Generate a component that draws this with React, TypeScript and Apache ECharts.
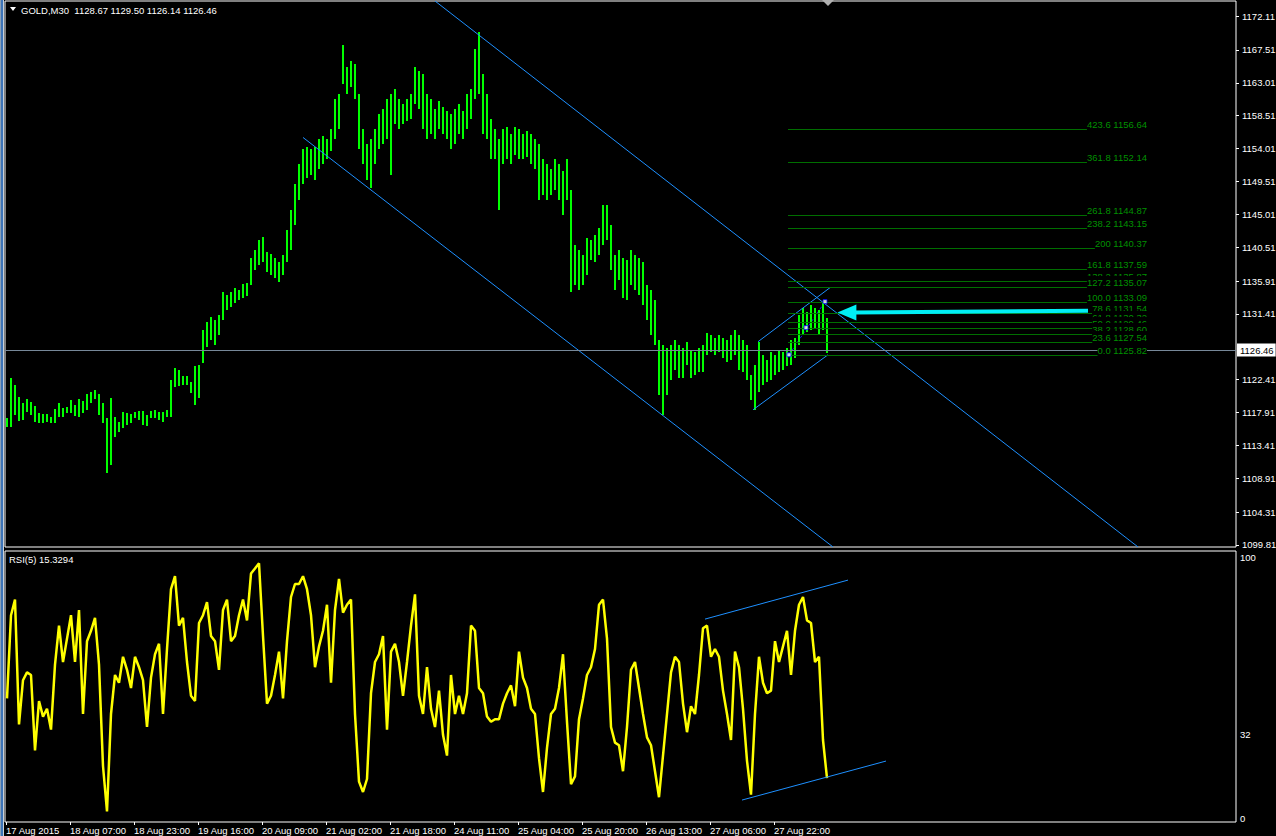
import React, { useEffect, useRef } from 'react';
import * as echarts from 'echarts';

const FONT = '"Liberation Sans", Arial, sans-serif';

// ---- header / last bar ----
const symbolName = 'GOLD,M30';
const lastOpen = 1128.67;
const lastHigh = 1129.5;
const lastLow = 1126.14;
const lastClose = 1126.46;
const rsiPeriod = 5;
const rsiLast = 15.3294;

// ---- axes ----
const timeLabels = [
  '17 Aug 2015', '18 Aug 07:00', '18 Aug 23:00', '19 Aug 16:00', '20 Aug 09:00',
  '21 Aug 02:00', '21 Aug 18:00', '24 Aug 11:00', '25 Aug 04:00', '25 Aug 20:00',
  '26 Aug 13:00', '27 Aug 06:00', '27 Aug 22:00',
];
const barsPerLabel = 16;
const priceTicks = [
  1172.11, 1167.51, 1163.01, 1158.51, 1154.01, 1149.51, 1145.01, 1140.51,
  1135.91, 1131.41, 1122.41, 1117.91, 1113.41, 1108.91, 1104.31, 1099.81,
];
const rsiTicks = [100, 32, 0];

const PRICE_MIN = 1099.536;
const PRICE_MAX = 1174.201;
const RSI_MIN = -1.538;
const RSI_MAX = 102.692;
const X_MIN = -0.5;
const X_MAX = 307.25;

// ---- price bars (M30, each entry = one pair of bars) ----
const highs = [
  1117.20, 1122.68, 1121.72, 1120.08, 1119.26, 1119.80, 1119.39, 1118.84, 1117.88, 1117.75,
  1117.75, 1117.34, 1118.43, 1119.26, 1118.57, 1118.71, 1119.67, 1118.98, 1119.80, 1119.53,
  1120.49, 1120.76, 1121.04, 1120.49, 1119.26, 1117.20, 1119.94, 1117.34, 1116.65, 1118.02,
  1117.88, 1117.75, 1118.02, 1118.16, 1118.16, 1117.61, 1118.16, 1118.30, 1118.02, 1118.02,
  1118.30, 1122.40, 1124.05, 1123.77, 1122.95, 1122.95, 1122.13, 1124.32, 1124.46, 1129.25,
  1130.35, 1131.03, 1130.62, 1131.31, 1134.45, 1134.04, 1134.45, 1135.00, 1134.73, 1135.55,
  1135.69, 1139.11, 1140.20, 1141.57, 1141.99, 1139.93, 1139.66, 1139.11, 1138.56, 1139.52,
  1142.94, 1145.68, 1149.11, 1151.85, 1153.90, 1154.17, 1153.90, 1154.17, 1155.27, 1155.68,
  1155.27, 1156.64, 1160.75, 1161.43, 1168.14, 1165.13, 1165.95, 1165.54, 1161.43, 1156.64,
  1154.58, 1155.27, 1156.64, 1158.69, 1159.38, 1160.75, 1161.43, 1162.11, 1160.75, 1160.06,
  1160.75, 1161.43, 1165.13, 1164.58, 1164.17, 1161.43, 1160.75, 1159.38, 1160.47, 1159.65,
  1159.10, 1158.69, 1159.38, 1160.06, 1159.10, 1161.43, 1162.11, 1167.59, 1169.92, 1164.17,
  1161.43, 1158.01, 1156.64, 1155.27, 1156.64, 1156.91, 1155.95, 1156.91, 1156.64, 1155.95,
  1156.36, 1155.95, 1155.27, 1154.58, 1152.53, 1151.85, 1151.16, 1152.53, 1151.85, 1150.89,
  1152.53, 1148.42, 1140.89, 1140.20, 1139.52, 1141.85, 1141.57, 1142.26, 1143.22, 1146.37,
  1146.37, 1143.63, 1139.52, 1140.20, 1139.11, 1138.84, 1140.20, 1139.52, 1139.11, 1138.56,
  1135.41, 1134.73, 1133.36, 1127.88, 1127.20, 1126.79, 1127.20, 1127.88, 1127.20, 1126.79,
  1127.61, 1126.51, 1126.24, 1126.79, 1127.20, 1128.84, 1128.57, 1128.16, 1128.57, 1128.16,
  1127.88, 1128.57, 1129.25, 1128.57, 1127.88, 1127.20, 1123.09, 1124.46, 1127.61, 1125.82,
  1125.14, 1126.24, 1125.82, 1126.51, 1126.24, 1126.79, 1127.88, 1128.16, 1131.31, 1132.26,
  1131.72, 1132.68, 1132.26, 1131.99, 1133.09, 1130.90,
];
const lows = [
  1115.97, 1115.97, 1117.61, 1116.79, 1116.93, 1118.02, 1117.61, 1116.65, 1116.52, 1116.52,
  1116.65, 1116.52, 1116.52, 1117.34, 1117.34, 1117.88, 1117.88, 1117.47, 1117.34, 1117.88,
  1118.30, 1119.26, 1119.80, 1117.61, 1116.52, 1109.67, 1110.76, 1114.60, 1115.28, 1115.83,
  1116.24, 1116.52, 1117.20, 1116.93, 1116.24, 1116.10, 1117.20, 1117.20, 1116.93, 1116.65,
  1117.34, 1117.34, 1121.45, 1121.58, 1121.72, 1121.72, 1120.62, 1118.98, 1119.94, 1124.73,
  1126.92, 1127.88, 1127.20, 1128.57, 1130.62, 1131.99, 1132.40, 1132.95, 1133.36, 1133.63,
  1133.91, 1135.41, 1137.47, 1138.15, 1138.56, 1137.19, 1136.78, 1136.37, 1135.83, 1136.78,
  1138.56, 1140.20, 1143.63, 1147.05, 1149.11, 1150.06, 1150.47, 1149.79, 1151.16, 1151.85,
  1152.53, 1153.63, 1155.27, 1156.64, 1162.80, 1161.43, 1162.39, 1160.75, 1153.90, 1151.85,
  1149.79, 1148.69, 1151.85, 1153.90, 1154.58, 1155.27, 1150.47, 1157.32, 1156.64, 1157.32,
  1157.73, 1158.01, 1160.06, 1159.38, 1156.64, 1155.27, 1155.95, 1155.27, 1156.64, 1155.95,
  1155.27, 1153.90, 1154.58, 1155.95, 1155.27, 1156.64, 1158.01, 1160.75, 1161.43, 1155.95,
  1155.27, 1152.53, 1152.53, 1145.68, 1151.85, 1152.53, 1151.85, 1153.21, 1152.53, 1152.53,
  1152.80, 1151.85, 1151.16, 1147.05, 1147.74, 1147.05, 1147.74, 1148.42, 1147.05, 1145.00,
  1147.05, 1134.45, 1135.41, 1134.73, 1135.41, 1136.78, 1138.84, 1138.56, 1139.52, 1140.89,
  1141.57, 1137.47, 1134.73, 1136.10, 1133.63, 1133.36, 1135.41, 1134.73, 1134.04, 1132.68,
  1130.62, 1128.57, 1127.20, 1120.35, 1117.61, 1120.35, 1122.40, 1123.77, 1122.68, 1122.68,
  1124.46, 1122.68, 1123.09, 1123.50, 1123.50, 1125.82, 1126.24, 1125.82, 1126.24, 1125.41,
  1124.87, 1125.14, 1125.82, 1123.77, 1123.50, 1122.40, 1119.67, 1118.30, 1120.76, 1121.72,
  1122.13, 1122.40, 1123.09, 1123.50, 1123.77, 1124.32, 1124.46, 1125.41, 1127.20, 1128.57,
  1128.98, 1129.25, 1129.53, 1128.57, 1129.25, 1126.10,
];

// ---- RSI(5) ----
const rsiValues = [
  46, 78, 84, 36, 53, 56, 55, 26, 45, 39,
  42, 34, 59, 74, 60, 69, 78, 60, 80, 40,
  68, 72, 77, 59, 20, 2.5, 40, 55, 52, 62,
  57, 50, 62, 58, 53, 35, 54, 63, 67, 40,
  65, 88, 93, 74, 77, 60, 47, 45, 75, 78,
  83, 70, 68, 57, 80, 84, 68, 70, 78, 84,
  76, 94, 96, 98, 70, 44, 47, 55, 64, 46,
  68, 85, 90, 90, 93, 88, 78, 58, 66, 72,
  82, 52, 80, 92, 79, 82, 84, 40, 14, 10,
  15, 48, 60, 63, 70, 34, 64, 67, 60, 47,
  60, 74, 86, 47, 40, 58, 42, 35, 49, 32,
  24, 55, 40, 47, 40, 48, 74, 72, 50, 48,
  39, 37, 38, 38, 44, 48, 51, 43, 64, 54,
  50, 42, 40, 23, 10, 27, 40, 42, 50, 63,
  37, 13, 16, 38, 46, 55, 58, 65, 82, 84,
  69, 35, 29, 28, 18, 35, 57, 60, 50, 40,
  31, 28, 18, 8, 24, 40, 56, 62, 60, 44,
  33, 43, 40, 55, 73, 74, 62, 65, 62, 49,
  40, 30, 64, 58, 42, 22, 9, 40, 62, 52,
  48, 49, 68, 60, 66, 72, 55, 72, 82, 85,
  76, 75, 60, 62, 30, 15.33,
];

// ---- drawing objects (bar index, value) ----
const channelUpper = [[107, 1174.2], [282.75, 1099.54]];
const channelLower = [[74, 1155.54], [206.5, 1099.54]];
const smallChannelTop = [[187.75, 1127.61], [205.75, 1135.0]];
const smallChannelBottom = [[186.5, 1118.3], [205.25, 1125.82]];
const rsiChannelTop = [[174.5, 76.5], [210.25, 91.5]];
const rsiChannelBottom = [[183.75, 6.9], [219.75, 21.9]];
const fibDiagonal = [[195.5, 1125.82], [204.5, 1133.09]];
const fibAnchors = [[195.5, 1125.82], [199.75, 1129.53], [204.5, 1133.09]];
const arrowTip = [207.6, 1131.6];
const arrowTail = [270.25, 1131.85];

const fibRatios = ['423.6', '361.8', '261.8', '238.2', '200', '161.8', '138.2', '127.2', '100.0', '78.6', '61.8', '50.0', '38.2', '23.6', '0.0'];
const fibPrices = [1156.64, 1152.14, 1144.87, 1143.15, 1140.37, 1137.59, 1135.87, 1135.07, 1133.09, 1131.54, 1130.32, 1129.46, 1128.60, 1127.54, 1125.82];
const fibStart = 195.25;
const fibEnd = 285;

export default function App() {
  const ref = useRef<HTMLDivElement>(null);

  useEffect(() => {
    if (!ref.current) return;
    const chart = echarts.init(ref.current, null, { renderer: 'svg' });
    const timeTickVals = timeLabels.map((_, k) => k * barsPerLabel - 0.25);

    const trend = (data: number[][], xi: number, yi: number, color = '#1e90ff', extra: any = {}) => ({
      type: 'line',
      xAxisIndex: xi,
      yAxisIndex: yi,
      data,
      symbol: 'none',
      silent: true,
      z: 3,
      lineStyle: { color, width: 1 },
      ...extra,
    });

    const gridBase = {
      left: 5, width: 1231, show: true, borderColor: '#fff', borderWidth: 1,
      backgroundColor: 'transparent', containLabel: false, outerBoundsMode: 'none',
    };

    const option: any = {
      animation: false,
      backgroundColor: '#000',
      textStyle: { fontFamily: FONT },
      grid: [
        { ...gridBase, top: 1, height: 546 },
        { ...gridBase, top: 551, height: 271 },
      ],
      xAxis: [
        { type: 'value', gridIndex: 0, min: X_MIN, max: X_MAX, show: false, axisLine: { onZero: false } },
        {
          type: 'value', gridIndex: 1, min: X_MIN, max: X_MAX, position: 'bottom',
          splitLine: { show: false },
          axisLine: { show: false, onZero: false },
          axisTick: { show: true, length: 3, lineStyle: { color: '#fff' }, customValues: timeTickVals },
          axisLabel: {
            customValues: timeTickVals,
            formatter: (v: number) => timeLabels[Math.round((v + 0.25) / barsPerLabel)] ?? '',
            color: '#fff', fontSize: 9.5, fontFamily: FONT, align: 'left', margin: 3,
          },
        },
      ],
      yAxis: [
        {
          type: 'value', gridIndex: 0, position: 'right', min: PRICE_MIN, max: PRICE_MAX,
          splitLine: { show: false }, axisLine: { show: false, onZero: false },
          axisTick: { show: true, length: 3, lineStyle: { color: '#fff' }, customValues: priceTicks },
          axisLabel: {
            customValues: priceTicks,
            formatter: (v: number) => v.toFixed(2),
            color: '#fff', fontSize: 9.5, fontFamily: FONT, margin: 6,
          },
        },
        {
          type: 'value', gridIndex: 0, position: 'right', min: PRICE_MIN, max: PRICE_MAX,
          splitLine: { show: false }, axisLine: { show: false, onZero: false }, axisTick: { show: false },
          axisLabel: {
            customValues: [lastClose], formatter: (v: number) => v.toFixed(2), color: '#000',
            backgroundColor: '#fff', padding: [2, 2, 1, 3], fontSize: 9.5, fontFamily: FONT, margin: 1,
          },
        },
        {
          type: 'value', gridIndex: 1, position: 'right', min: RSI_MIN, max: RSI_MAX,
          splitLine: { show: false }, axisLine: { show: false, onZero: false }, axisTick: { show: false },
          axisLabel: { customValues: rsiTicks, formatter: (v: number) => String(v), color: '#fff', fontSize: 9.5, fontFamily: FONT, margin: 4 },
        },
      ],
      series: [
        // fib diagonal (behind bars)
        trend(fibDiagonal, 0, 0, '#1818e8', { z: 1, lineStyle: { color: '#1818e8', width: 1, type: [3, 2] } }),
        // price bars
        {
          type: 'custom',
          xAxisIndex: 0,
          yAxisIndex: 0,
          z: 2,
          silent: true,
          data: lows.map((l, i) => [i, l, highs[i]]),
          encode: { x: 0, y: [1, 2] },
          renderItem: (_p: any, api: any) => {
            const i = api.value(0);
            const lo = api.coord([i, api.value(1)]);
            const hi = api.coord([i, api.value(2)]);
            return {
              type: 'rect',
              shape: { x: Math.round(lo[0]) - 1, y: Math.round(hi[1]), width: 2, height: Math.max(1, Math.round(lo[1]) - Math.round(hi[1])) },
              style: { fill: '#00ff00' },
            };
          },
        },
        // channels + current price line
        trend(channelUpper, 0, 0, '#1e90ff', {
          markLine: {
            silent: true,
            symbol: 'none',
            label: { show: false },
            lineStyle: { color: '#778899', width: 1, type: 'solid' },
            data: [{ yAxis: lastClose }],
          },
        }),
        trend(channelLower, 0, 0),
        trend(smallChannelTop, 0, 0),
        trend(smallChannelBottom, 0, 0),
        // fibonacci levels
        {
          type: 'custom',
          xAxisIndex: 0,
          yAxisIndex: 0,
          z: 8,
          silent: true,
          data: fibPrices.map((p, k) => [fibStart, p, fibEnd, k]),
          encode: { x: [0, 2], y: 1 },
          renderItem: (_p: any, api: any) => {
            const a = api.coord([api.value(0), api.value(1)]);
            const b = api.coord([api.value(2), api.value(1)]);
            const k = api.value(3);
            const y = Math.round(a[1]) + 0.5;
            return {
              type: 'group',
              children: [
                { type: 'line', shape: { x1: a[0], y1: y, x2: b[0], y2: y }, style: { stroke: '#006e00', lineWidth: 1 } },
                {
                  type: 'text', x: b[0], y: y + 0.5,
                  style: {
                    text: fibRatios[k] + ' ' + fibPrices[k].toFixed(2),
                    align: 'right', verticalAlign: 'bottom',
                    fill: '#009000', backgroundColor: '#000', lineHeight: 12,
                    font: '9.5px ' + FONT,
                  },
                },
              ],
            };
          },
        },
        // anchor markers
        {
          type: 'scatter', xAxisIndex: 0, yAxisIndex: 0, z: 9, silent: true,
          data: fibAnchors, symbol: 'rect', symbolSize: 4,
          itemStyle: { color: '#ffffff', borderColor: '#0000ff', borderWidth: 1 },
        },
        // cyan arrow
        {
          type: 'custom', xAxisIndex: 0, yAxisIndex: 0, z: 9, silent: true,
          data: [[arrowTip[0], arrowTip[1], arrowTail[0], arrowTail[1]]],
          renderItem: (_p: any, api: any) => {
            const tip = api.coord([api.value(0), api.value(1)]);
            const tail = api.coord([api.value(2), api.value(3)]);
            const hl = 19;
            const hw = 8;
            return {
              type: 'group',
              children: [
                { type: 'line', shape: { x1: tip[0] + hl - 2, y1: tip[1], x2: tail[0], y2: tail[1] }, style: { stroke: '#00eef5', lineWidth: 4 } },
                { type: 'polygon', shape: { points: [[tip[0], tip[1]], [tip[0] + hl, tip[1] - hw], [tip[0] + hl, tip[1] + hw]] }, style: { fill: '#00eef5' } },
              ],
            };
          },
        },
        // RSI
        {
          type: 'line', xAxisIndex: 1, yAxisIndex: 2, z: 2, silent: true,
          data: rsiValues.map((v, i) => [i, v]),
          symbol: 'none',
          lineStyle: { color: '#ffff00', width: 2.5 },
        },
        trend(rsiChannelTop, 1, 2),
        trend(rsiChannelBottom, 1, 2),
      ],
      graphic: [
        { type: 'rect', z: 100, shape: { x: 0, y: 0, width: 1, height: 836 }, style: { fill: '#8aa0b8' } },
        { type: 'rect', z: 100, shape: { x: 1, y: 0, width: 2, height: 836 }, style: { fill: '#3d74b8' } },
        { type: 'rect', z: 100, shape: { x: 3, y: 0, width: 1, height: 836 }, style: { fill: '#c8d0d8' } },
        { type: 'polygon', z: 100, shape: { points: [[822, 0], [834, 0], [828, 6]] }, style: { fill: '#b0b0b0' } },
        { type: 'polygon', z: 100, shape: { points: [[10, 7], [16, 7], [13, 11]] }, style: { fill: '#fff' } },
        {
          type: 'text', z: 100, x: 21, y: 10,
          style: {
            text: `${symbolName}  ${lastOpen.toFixed(2)} ${lastHigh.toFixed(2)} ${lastLow.toFixed(2)} ${lastClose.toFixed(2)}`,
            fill: '#fff', font: '9.5px ' + FONT, verticalAlign: 'middle',
          },
        },
        {
          type: 'text', z: 100, x: 9, y: 559,
          style: { text: `RSI(${rsiPeriod}) ${rsiLast.toFixed(4)}`, fill: '#fff', font: '9.5px ' + FONT, verticalAlign: 'middle' },
        },
      ],
    };

    chart.setOption(option);
    return () => chart.dispose();
  }, []);

  return (
    <div
      ref={ref}
      style={{ position: 'fixed', left: 0, top: 0, width: 1276, height: 836, background: '#000' }}
    />
  );
}
